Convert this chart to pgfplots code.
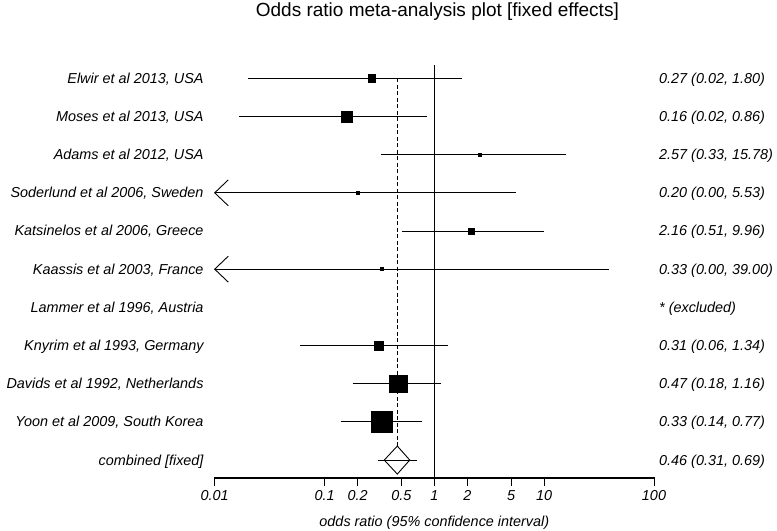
\documentclass[border=0pt]{standalone}
\usepackage{pgfplots}
\pgfplotsset{compat=1.18}
\usepackage{fontspec}
\setmainfont{Liberation Sans}
\begin{document}
\begin{tikzpicture}
\fontsize{14.4bp}{16bp}\selectfont
\tikzset{lab/.style={anchor=base east, inner sep=0pt, font=\itshape, xshift=-11bp, yshift=-5bp},
         val/.style={anchor=base west, inner sep=0pt, font=\itshape, xshift=5bp, yshift=-5bp},
         tl/.style={anchor=base, inner sep=0pt, font=\itshape, yshift=-22bp}}
\begin{axis}[
  name=fp,
  at={(0,0)}, anchor=south west,
  scale only axis, width=439.3bp, height=413bp,
  xmode=log, xmin=0.01, xmax=100, ymin=0.53, ymax=11.348,
  axis lines=none,
  xtick=\empty, ytick=\empty,
  xminorticks=false,
  title style={at={(axis description cs:0.5,1)}, anchor=base, yshift=43bp, xshift=3bp, font=\fontsize{19bp}{21bp}\selectfont},
  title={Odds ratio meta-analysis plot [fixed effects]},
  clip=false,
]
% x axis line and ticks
\addplot[black, line width=1.1bp] coordinates {(0.01,0.545) (100,0.545)};
\pgfplotsinvokeforeach{0.01,0.1,0.2,0.5,1,2,5,10,100}{
  \addplot[black, line width=1bp] coordinates {(#1,0.545) (#1,0.34)};
}
% reference lines
\addplot[black, line width=1.2bp] coordinates {(1,0.545) (1,11.348)};
\addplot[black, line width=1.1bp, dash pattern=on 4bp off 2.5bp] coordinates {(0.46,11) (0.46,1.367)};
% confidence intervals
\addplot[black, line width=0.9bp] coordinates {(0.02,11) (1.80,11)};
\addplot[black, line width=0.9bp] coordinates {(0.0167,10) (0.86,10)};
\addplot[black, line width=0.9bp] coordinates {(0.33,9) (15.78,9)};
\addplot[black, line width=0.9bp] coordinates {(0.01,8) (5.53,8)};
\addplot[black, line width=0.9bp] coordinates {(0.0133,8.34) (0.01,8) (0.0133,7.66)};
\addplot[black, line width=0.9bp] coordinates {(0.51,7) (9.96,7)};
\addplot[black, line width=0.9bp] coordinates {(0.01,6) (39.00,6)};
\addplot[black, line width=0.9bp] coordinates {(0.0133,6.34) (0.01,6) (0.0133,5.66)};
\addplot[black, line width=0.9bp] coordinates {(0.06,4) (1.34,4)};
\addplot[black, line width=0.9bp] coordinates {(0.18,3) (1.16,3)};
\addplot[black, line width=0.9bp] coordinates {(0.14,2) (0.77,2)};
% point estimates (box size = weight)
\addplot[only marks, mark=square*, mark size=3.65bp, mark options={draw=none, fill=black}] coordinates {(0.27,11)};
\addplot[only marks, mark=square*, mark size=5.35bp, mark options={draw=none, fill=black}] coordinates {(0.16,10)};
\addplot[only marks, mark=square*, mark size=1.5bp, mark options={draw=none, fill=black}] coordinates {(2.57,9)};
\addplot[only marks, mark=square*, mark size=1.75bp, mark options={draw=none, fill=black}] coordinates {(0.20,8)};
\addplot[only marks, mark=square*, mark size=3.25bp, mark options={draw=none, fill=black}] coordinates {(2.16,7)};
\addplot[only marks, mark=square*, mark size=1.5bp, mark options={draw=none, fill=black}] coordinates {(0.33,6)};
\addplot[only marks, mark=square*, mark size=4.65bp, mark options={draw=none, fill=black}] coordinates {(0.31,4)};
\addplot[only marks, mark=square*, mark size=8.7bp, mark options={draw=none, fill=black}] coordinates {(0.47,3)};
\addplot[only marks, mark=square*, mark size=10.6bp, mark options={draw=none, fill=black}] coordinates {(0.33,2)};
\addplot[white, line width=1.1bp, dash pattern=on 4bp off 2.5bp] coordinates {(0.46,3.21) (0.46,2.79)};
% combined
\addplot[black, line width=0.9bp, fill=white] coordinates {(0.35,1) (0.46,1.367) (0.597,1) (0.46,0.633) (0.35,1)};
\addplot[black, line width=0.9bp] coordinates {(0.31,1) (0.69,1)};
% tick positions for the axis line drawn after the axis
\coordinate (t1) at (axis cs:0.01,0.53);
\coordinate (t2) at (axis cs:0.1,0.53);
\coordinate (t3) at (axis cs:0.2,0.53);
\coordinate (t4) at (axis cs:0.5,0.53);
\coordinate (t5) at (axis cs:1,0.53);
\coordinate (t6) at (axis cs:2,0.53);
\coordinate (t7) at (axis cs:5,0.53);
\coordinate (t8) at (axis cs:10,0.53);
\coordinate (t9) at (axis cs:100,0.53);
% tick labels and axis label
\node[tl] at (axis cs:0.01,0.53) {0.01};
\node[tl] at (axis cs:0.1,0.53) {0.1};
\node[tl] at (axis cs:0.2,0.53) {0.2};
\node[tl] at (axis cs:0.5,0.53) {0.5};
\node[tl] at (axis cs:1,0.53) {1};
\node[tl] at (axis cs:2,0.53) {2};
\node[tl] at (axis cs:5,0.53) {5};
\node[tl] at (axis cs:10,0.53) {10};
\node[tl] at (axis cs:100,0.53) {100};
\node[anchor=base, inner sep=0pt, font=\itshape, yshift=-48bp] at (axis cs:1,0.53) {odds ratio (95\% confidence interval)};
% study labels
\node[lab] at (axis cs:0.01,11) {Elwir et al 2013, USA};
\node[lab] at (axis cs:0.01,10) {Moses et al 2013, USA};
\node[lab] at (axis cs:0.01,9) {Adams et al 2012, USA};
\node[lab] at (axis cs:0.01,8) {Soderlund et al 2006, Sweden};
\node[lab] at (axis cs:0.01,7) {Katsinelos et al 2006, Greece};
\node[lab] at (axis cs:0.01,6) {Kaassis et al 2003, France};
\node[lab] at (axis cs:0.01,5) {Lammer et al 1996, Austria};
\node[lab] at (axis cs:0.01,4) {Knyrim et al 1993, Germany};
\node[lab] at (axis cs:0.01,3) {Davids et al 1992, Netherlands};
\node[lab] at (axis cs:0.01,2) {Yoon et al 2009, South Korea};
\node[lab] at (axis cs:0.01,1) {combined [fixed]};
% values
\node[val] at (axis cs:100,11) {0.27 (0.02, 1.80)};
\node[val] at (axis cs:100,10) {0.16 (0.02, 0.86)};
\node[val] at (axis cs:100,9) {2.57 (0.33, 15.78)};
\node[val] at (axis cs:100,8) {0.20 (0.00, 5.53)};
\node[val] at (axis cs:100,7) {2.16 (0.51, 9.96)};
\node[val] at (axis cs:100,6) {0.33 (0.00, 39.00)};
\node[val] at (axis cs:100,5) {* (excluded)};
\node[val] at (axis cs:100,4) {0.31 (0.06, 1.34)};
\node[val] at (axis cs:100,3) {0.47 (0.18, 1.16)};
\node[val] at (axis cs:100,2) {0.33 (0.14, 0.77)};
\node[val] at (axis cs:100,1) {0.46 (0.31, 0.69)};
\end{axis}
% axis line and ticks (axis decoration)
\draw[black, line width=1.1bp, line cap=rect] (fp.south west) -- (fp.south east);
\foreach \t in {t1,t2,t3,t4,t5,t6,t7,t8,t9}{
  \draw[black, line width=1bp] (\t) -- ++(0,-7.5bp);
}
\pgfresetboundingbox
\useasboundingbox (-214.7bp,-53bp) rectangle (562.3bp,478bp);
\end{tikzpicture}
\end{document}
